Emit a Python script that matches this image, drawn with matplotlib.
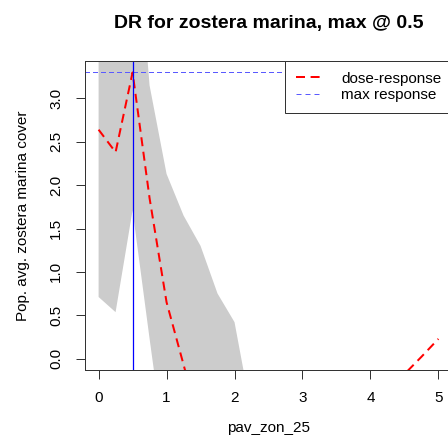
import matplotlib.pyplot as plt
import numpy as np

plt.rcParams['font.family'] = ['Liberation Sans', 'DejaVu Sans']

# dose-response curve
dose = [0.0, 0.25, 0.5, 0.75, 1.0, 1.25, 1.5, 1.75, 2.0, 2.25, 2.5, 2.75, 3.0,
        3.25, 3.5, 3.75, 4.0, 4.25, 4.5, 4.75, 5.0]
response = [2.64, 2.38, 3.30, 1.85, 0.65, -0.07, -0.8, -1.2, -1.4, -1.5, -1.5,
            -1.45, -1.35, -1.2, -1.05, -0.85, -0.65, -0.4, -0.18, 0.02, 0.227]

# confidence band
band_x = [0.0, 0.25, 0.5, 0.75, 1.0, 1.25, 1.5, 1.75, 2.0, 2.25]
band_lo = [0.71, 0.535, 1.71, 0.23, -1.2, -1.8, -2.2, -2.5, -2.7, -2.9]
band_hi = [4.6, 4.2, 5.6, 3.15, 2.13, 1.65, 1.30, 0.75, 0.42, -0.63]

max_dose = 0.5
max_resp = 3.30

fig = plt.figure(figsize=(4.48, 4.46), dpi=100)
ax = fig.add_axes([85 / 448, 76 / 446, 367 / 448, 309 / 446])

ax.fill_between(band_x, band_lo, band_hi, color='#cccccc', lw=0)
ax.plot(dose, response, color='red', lw=1.44, dashes=(4.5, 2.8), label='dose-response')
ax.axhline(max_resp, color='#5a5aff', lw=0.72, dashes=(5, 4), label='max response',
           antialiased=False)
ax.axvline(max_dose, color='#0000ff', lw=0.9)

ax.set_xlim(-0.2, 5.2)
ax.set_ylim(-0.132, 3.432)
ax.set_xticks([0, 1, 2, 3, 4, 5])
ax.set_yticks([0.0, 0.5, 1.0, 1.5, 2.0, 2.5, 3.0])
ax.set_yticklabels(['0.0', '0.5', '1.0', '1.5', '2.0', '2.5', '3.0'],
                   rotation=90, va='center')
ax.tick_params(direction='out', length=6.8, width=0.72, color='#333333',
               labelsize=11)
ax.tick_params(axis='x', pad=8)
ax.tick_params(axis='y', pad=9)
for s in ax.spines.values():
    s.set_color('#333333')
    s.set_linewidth(0.72)

ax.set_title('DR for zostera marina, max @ 0.5', fontsize=14,
             fontweight='bold', pad=23.5)
ax.set_xlabel('pav_zon_25', fontsize=11, labelpad=12)
ax.set_ylabel('Pop. avg. zostera marina cover', fontsize=11, labelpad=14)

leg = ax.legend(loc='upper right', fontsize=11, frameon=True, fancybox=False,
                borderaxespad=0, handlelength=1.76, borderpad=0.7,
                labelspacing=0.15, handletextpad=1.22)
leg.get_frame().set_edgecolor('#333333')
leg.get_frame().set_linewidth(0.72)
leg.get_frame().set_alpha(1)

fig.savefig('out.png', dpi=100)
